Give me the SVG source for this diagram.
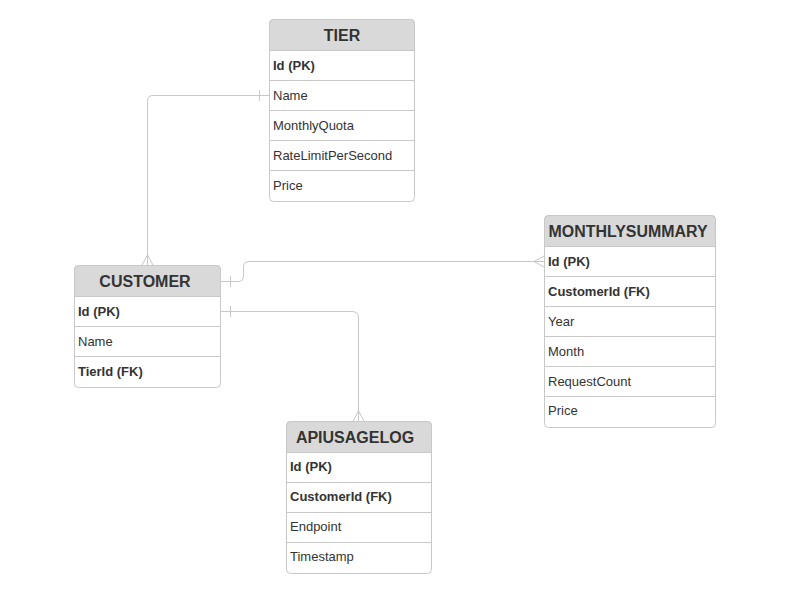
<svg xmlns="http://www.w3.org/2000/svg" width="786" height="598" viewBox="0 0 786 598">
<style>
.box{fill:#fff;stroke:#c8c8c8;stroke-width:1}
.hdr{fill:#d9d9d9;stroke:#c8c8c8;stroke-width:1}
.sep{stroke:#c8c8c8;stroke-width:1}
.t{font-family:"Liberation Sans",Arial,sans-serif;font-size:16px;font-weight:bold;fill:#333;text-anchor:middle}
.r{font-family:"Liberation Sans",Arial,sans-serif;font-size:13px;fill:#333}
.b{font-weight:bold}
.c{fill:none;stroke:#c8c8c8;stroke-width:1}
</style>
<rect width="786" height="598" fill="#fff"/>
<g id="connectors">
<path class="c" d="M269,95.5 H153 Q147.5,95.5 147.5,101 V265"/>
<path class="c" d="M259.5,90 V101"/>
<path class="c" d="M142,265 L147.5,255 L153,265"/>
<path class="c" d="M220,281.5 H238 Q243.5,281.5 243.5,276 V267 Q243.5,261.5 249,261.5 H544"/>
<path class="c" d="M230.5,276 V287"/>
<path class="c" d="M544,256 L534,261.5 L544,267"/>
<path class="c" d="M220,311.5 H352 Q358.5,311.5 358.5,318 V421"/>
<path class="c" d="M230.5,306 V317"/>
<path class="c" d="M353,421 L358.5,411 L364,421"/>
</g>
<g id="tier">
<rect class="box" x="269.5" y="19.5" width="145" height="182" rx="4"/>
<path class="hdr" d="M269.5,50.5 V23.5 Q269.5,19.5 273.5,19.5 H410.5 Q414.5,19.5 414.5,23.5 V50.5 Z"/>
<path class="sep" d="M269.5,80.5 H414.5 M269.5,110.5 H414.5 M269.5,140.5 H414.5 M269.5,170.5 H414.5"/>
<text class="t" x="342" y="40.5">TIER</text>
<text class="r b" x="273" y="70">Id (PK)</text>
<text class="r" x="273" y="100">Name</text>
<text class="r" x="273" y="130">MonthlyQuota</text>
<text class="r" x="273" y="160">RateLimitPerSecond</text>
<text class="r" x="273" y="190">Price</text>
</g>
<g id="customer">
<rect class="box" x="74.5" y="265.5" width="146" height="122" rx="4"/>
<path class="hdr" d="M74.5,296.5 V269.5 Q74.5,265.5 78.5,265.5 H216.5 Q220.5,265.5 220.5,269.5 V296.5 Z"/>
<path class="sep" d="M74.5,326.5 H220.5 M74.5,356.5 H220.5"/>
<text class="t" x="145" y="286.5">CUSTOMER</text>
<text class="r b" x="78" y="316">Id (PK)</text>
<text class="r" x="78" y="346">Name</text>
<text class="r b" x="78" y="376">TierId (FK)</text>
</g>
<g id="monthlysummary">
<rect class="box" x="544.5" y="215.5" width="171" height="212" rx="4"/>
<path class="hdr" d="M544.5,246.5 V219.5 Q544.5,215.5 548.5,215.5 H711.5 Q715.5,215.5 715.5,219.5 V246.5 Z"/>
<path class="sep" d="M544.5,276.5 H715.5 M544.5,306.5 H715.5 M544.5,336.5 H715.5 M544.5,366.5 H715.5 M544.5,396.5 H715.5"/>
<text class="t" x="628" y="236.5" textLength="159" lengthAdjust="spacingAndGlyphs">MONTHLYSUMMARY</text>
<text class="r b" x="548" y="266">Id (PK)</text>
<text class="r b" x="548" y="296">CustomerId (FK)</text>
<text class="r" x="548" y="326">Year</text>
<text class="r" x="548" y="356">Month</text>
<text class="r" x="548" y="386">RequestCount</text>
<text class="r" x="548" y="415">Price</text>
</g>
<g id="apiusagelog">
<rect class="box" x="286.5" y="421.5" width="145" height="152" rx="4"/>
<path class="hdr" d="M286.5,452.5 V425.5 Q286.5,421.5 290.5,421.5 H427.5 Q431.5,421.5 431.5,425.5 V452.5 Z"/>
<path class="sep" d="M286.5,482.5 H431.5 M286.5,512.5 H431.5 M286.5,542.5 H431.5"/>
<text class="t" x="355" y="442.5">APIUSAGELOG</text>
<text class="r b" x="290" y="471">Id (PK)</text>
<text class="r b" x="290" y="501">CustomerId (FK)</text>
<text class="r" x="290" y="531">Endpoint</text>
<text class="r" x="290" y="561">Timestamp</text>
</g>
</svg>
